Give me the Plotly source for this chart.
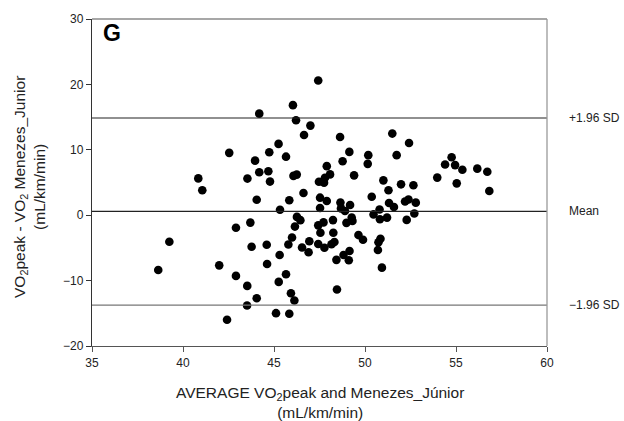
import plotly.graph_objects as go

# Bland-Altman data: average (x) vs difference (y)
avg_vals = [
    38.64, 39.25, 40.84, 41.06, 41.99, 42.42, 42.54, 42.91, 42.91, 43.54,
    43.53, 43.52, 43.70, 43.77, 43.96, 44.05, 44.05, 44.19, 44.19, 44.69,
    44.60, 44.62, 44.74, 44.78, 45.11, 45.25, 45.26, 45.31, 45.33, 45.66,
    45.66, 45.79, 45.84, 45.84, 45.93, 45.99, 46.04, 46.07, 46.25, 46.12,
    46.15, 46.21, 46.26, 46.45, 46.54, 46.62, 46.65, 46.90, 46.94, 47.00,
    47.43, 47.47, 47.75, 47.80, 48.08, 47.90, 47.53, 47.90, 47.53, 47.43,
    47.72, 47.55, 47.43, 47.77, 48.16, 48.32, 48.26, 48.24, 48.43, 48.46,
    48.63, 48.77, 49.14, 49.40, 48.65, 48.68, 48.90, 49.18, 49.27, 49.31,
    48.98, 49.15, 48.82, 49.11, 49.64, 49.89, 50.15, 50.18, 50.37, 50.47,
    50.80, 50.82, 51.21, 51.32, 51.59, 52.20, 52.39, 52.79, 52.71, 52.29,
    50.85, 50.74, 50.71, 50.93, 51.01, 51.29, 51.50, 51.74, 51.98, 52.42,
    52.66, 53.97, 54.40, 54.76, 54.95, 55.04, 55.35, 56.17, 56.72, 56.83,
]
diff_vals = [
    -8.37, -4.06, 5.63, 3.81, -7.67, -15.98, 9.53, -1.93, -9.28, 5.60,
    -10.81, -13.81, -1.13, -4.82, 8.34, 2.37, -12.69, 15.53, 6.56, 6.71,
    -4.52, -7.46, 9.63, 5.14, -14.98, 10.90, -10.20, -6.09, 0.84, 8.95,
    -9.04, -4.47, 2.28, -15.07, -11.93, -3.41, 16.83, 6.01, 6.21, -13.04,
    -1.74, 14.51, -0.26, -0.76, -4.93, 3.39, 12.27, -5.66, -3.99, 13.70,
    20.59, 5.11, 4.96, 5.72, 6.24, 7.50, 2.68, 2.18, 1.11, -1.55,
    -1.10, -2.69, -4.41, -4.98, -4.44, -4.11, -2.69, -0.75, -6.83, -11.37,
    11.96, 8.26, 9.68, 6.09, 1.95, 1.04, 0.65, 1.57, -0.37, -0.87,
    -1.17, -5.48, -6.09, -6.88, -3.04, -3.76, 7.85, 9.18, 2.83, 0.12,
    0.88, -0.61, -0.37, 1.87, 1.26, 2.10, 2.40, 1.92, 0.27, -0.72,
    -3.61, -4.14, -5.31, -8.02, 5.33, 3.81, 12.48, 9.18, 4.72, 11.05,
    4.57, 5.75, 7.76, 8.87, 7.66, 4.87, 6.94, 7.12, 6.64, 3.70,
]

mean_diff = 0.6
upper_loa = 14.86
lower_loa = -13.75
ref_labels = ["+1.96 SD", "Mean", "\u22121.96 SD"]

x_ticks = [35, 40, 45, 50, 55, 60]
y_ticks = [-20, -10, 0, 10, 20, 30]

font_fam = "Liberation Sans, Arial, sans-serif"

fig = go.Figure()
fig.add_trace(go.Scatter(
    x=avg_vals, y=diff_vals, mode="markers",
    marker=dict(color="black", size=8.6, line=dict(width=0)),
    hoverinfo="skip", showlegend=False,
))

ref_vals = [upper_loa, mean_diff, lower_loa]
ref_colors = ["#222222", "#222222", "#777777"]
shapes = []
for v, c in zip(ref_vals, ref_colors):
    shapes.append(dict(type="line", xref="paper", x0=0, x1=1, yref="y", y0=v, y1=v,
                       line=dict(color=c, width=1.2)))
# top and right frame
shapes.append(dict(type="line", xref="paper", yref="paper", x0=0, x1=1, y0=1, y1=1,
                   line=dict(color="#8a8a8a", width=1.3)))
shapes.append(dict(type="line", xref="paper", yref="paper", x0=1, x1=1, y0=0, y1=1,
                   line=dict(color="#9a9a9a", width=1.3)))

annotations = []
for v, t in zip(ref_vals, ref_labels):
    annotations.append(dict(xref="paper", yref="y", x=1, y=v, xshift=20, xanchor="left",
                            yanchor="middle", text=t, showarrow=False,
                            font=dict(size=12, color="#222222", family=font_fam)))
annotations.append(dict(xref="paper", yref="paper", x=0, y=1, xshift=9, yshift=1,
                        xanchor="left", yanchor="top", text="<b>G</b>", showarrow=False,
                        font=dict(size=23, color="black", family=font_fam)))
# x axis title
annotations.append(dict(xref="paper", yref="paper", x=(320 - 92) / 455, y=0, yshift=-36,
                        xanchor="center", yanchor="top",
                        text="AVERAGE VO<sub>2</sub>peak and Menezes_Júnior<br>(mL/km/min)",
                        showarrow=False, align="center",
                        font=dict(size=15.5, color="#222222", family=font_fam)))
# y axis title
annotations.append(dict(xref="paper", yref="paper", x=(30 - 92) / 455, y=(346 - 186) / 329,
                        xanchor="center", yanchor="middle", textangle=-90,
                        text="VO<sub>2</sub>peak - VO<sub>2</sub> Menezes_Junior<br>(mL/km/min)",
                        showarrow=False, align="center",
                        font=dict(size=15.5, color="#222222", family=font_fam)))

fig.update_layout(
    width=624, height=421,
    margin=dict(l=92, r=77, t=17, b=75),
    paper_bgcolor="white", plot_bgcolor="white",
    shapes=shapes, annotations=annotations,
    font=dict(family=font_fam, size=12, color="#222222"),
    xaxis=dict(range=[35, 60], tickvals=x_ticks, ticks="outside", ticklen=5,
               tickcolor="#555555", showline=True, linecolor="#555555", linewidth=1.3,
               showgrid=False, zeroline=False, tickfont=dict(size=12, color="#222222")),
    yaxis=dict(range=[-20, 30], tickvals=y_ticks, ticks="outside", ticklen=5,
               tickcolor="#333333", showline=True, linecolor="#333333", linewidth=1.3,
               showgrid=False, zeroline=False, tickfont=dict(size=12, color="#222222")),
)

fig.write_html("out.html", config={"displayModeBar": False},
               post_script="document.body.style.margin='0px';document.body.style.overflow='hidden';")
